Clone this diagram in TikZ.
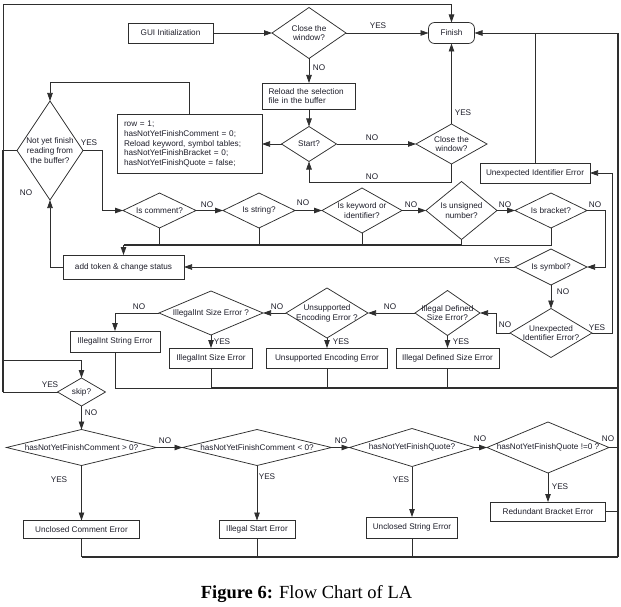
\documentclass[tikz,border=0pt]{standalone}
\usepackage{fontspec}
\setmainfont{Liberation Serif}
\newfontfamily\arialf{Liberation Sans}
\usetikzlibrary{arrows.meta,shapes.geometric}
\definecolor{lncol}{HTML}{2E2E2E}
\definecolor{txcol}{HTML}{1E1E2A}
\newcommand{\sfs}{\arialf\fontsize{8.2}{9.8}\selectfont}
\begin{document}
\begin{tikzpicture}[x=1pt,y=-1pt,
  ln/.style={draw=lncol, line width=0.75pt},
  thk/.style={draw=lncol, line width=1.8pt},
  arr/.style={draw=lncol, line width=0.75pt, -{Triangle[length=8pt,width=5.5pt]}},
  box/.style={rectangle, draw=lncol, line width=0.75pt, inner sep=0pt, outer sep=0pt, font=\sfs, text=txcol},
  dia/.style={diamond, draw=lncol, line width=0.75pt, inner sep=0pt, outer sep=0pt},
  dt/.style={font=\sfs, align=center, inner sep=0pt, text=txcol},
  lab/.style={font=\sfs, inner sep=0pt, text=txcol},
]
\useasboundingbox (0,0) rectangle (621,607);

% ---------- top part ----------
\node[box, minimum width=85pt, minimum height=20pt] (gui) at (170.5,33) {GUI Initialization};
\node[dia, minimum width=74pt, minimum height=51pt, label={[dt]center:{Close the\\window?}}] (close1) at (309,33) {};
\node[box, rounded corners=6pt, minimum width=46pt, minimum height=21pt] (finish) at (451.5,33) {Finish};
\node[box, minimum width=93pt, minimum height=26pt, text width=81pt, inner xsep=6pt, align=left] (reload) at (309,96) {Reload the selection\\file in the buffer};
\node[dia, minimum width=55pt, minimum height=35pt, label={[dt]center:{Start?}}] (start) at (309,144) {};
\node[dia, minimum width=71pt, minimum height=40pt, label={[dt]center:{Close the\\window?}}] (close2) at (451.5,144) {};
\node[box, minimum width=145pt, minimum height=59pt, text width=131pt, inner xsep=7pt, align=left] (code) at (189.5,144) {row = 1;\\hasNotYetFinishComment = 0;\\Reload keyword, symbol tables;\\hasNotYetFinishBracket = 0;\\hasNotYetFinishQuote = false;};
\node[dia, minimum width=66pt, minimum height=99pt, label={[dt]center:{Not yet finish\\reading from\\the buffer?}}] (notyet) at (50,150.5) {};
\node[box, minimum width=110pt, minimum height=20pt] (uie) at (535,173) {Unexpected Identifier Error};

% ---------- token row ----------
\node[dia, minimum width=73pt, minimum height=35pt, label={[dt]center:{Is comment?}}] (iscomment) at (159.5,210.5) {};
\node[dia, minimum width=72pt, minimum height=35pt, label={[dt]center:{Is string?}}] (isstring) at (259,210.5) {};
\node[dia, minimum width=80pt, minimum height=45pt, label={[dt]center:{Is keyword or\\identifier?}}] (iskw) at (362,210.5) {};
\node[dia, minimum width=71pt, minimum height=58pt, label={[dt]center:{Is unsigned\\number?}}] (isnum) at (461.5,210.5) {};
\node[dia, minimum width=72pt, minimum height=35pt, label={[dt]center:{Is bracket?}}] (isbracket) at (551,210.5) {};
\node[dia, minimum width=72pt, minimum height=36pt, label={[dt]center:{Is symbol?}}] (issymbol) at (551,267) {};
\node[box, minimum width=121pt, minimum height=24pt] (addtoken) at (123.5,267) {add token \& change status};

% ---------- error row ----------
\node[dia, minimum width=82pt, minimum height=49pt, label={[dt]center:{Unexpected\\Identifier Error?}}] (uiequ) at (551,333) {};
\node[dia, minimum width=65pt, minimum height=45pt, label={[dt]center:{Illegal Defined\\Size Error?}}] (ids) at (447.5,313) {};
\node[dia, minimum width=82pt, minimum height=50pt, label={[dt]center:{Unsupported\\Encoding Error ?}}] (ue) at (327,313) {};
\node[dia, minimum width=104pt, minimum height=44pt, label={[dt]center:{IllegalInt Size Error ?}}] (iis) at (211,313) {};
\node[box, minimum width=90pt, minimum height=21pt] (iisstr) at (115,341.5) {IllegalInt String Error};
\node[box, minimum width=83pt, minimum height=20pt] (iisbox) at (211,358) {IllegalInt Size Error};
\node[box, minimum width=121pt, minimum height=20pt] (uebox) at (327,358) {Unsupported Encoding Error};
\node[box, minimum width=103pt, minimum height=20pt] (idsbox) at (447.5,358) {Illegal Defined Size Error};

% ---------- bottom ----------
\node[dia, minimum width=48pt, minimum height=28pt, label={[dt]center:{skip?}}] (skip) at (81.5,392) {};
\node[dia, minimum width=150pt, minimum height=36pt, label={[dt]center:{hasNotYetFinishComment > 0?}}] (c1) at (81.5,447.5) {};
\node[dia, minimum width=149pt, minimum height=36pt, label={[dt]center:{hasNotYetFinishComment < 0?}}] (c2) at (257,447.5) {};
\node[dia, minimum width=125pt, minimum height=38pt, label={[dt]center:{hasNotYetFinishQuote?}}] (q1) at (412,447.5) {};
\node[dia, minimum width=122pt, minimum height=51pt, label={[dt]center:{hasNotYetFinishQuote !=0 ?}}] (q2) at (548,447.5) {};
\node[box, minimum width=116pt, minimum height=18pt] (b1) at (81.5,529.5) {Unclosed Comment Error};
\node[box, minimum width=76pt, minimum height=18pt] (b2) at (257,529.5) {Illegal Start Error};
\node[box, minimum width=91pt, minimum height=21pt] (b3) at (412,527.5) {Unclosed String Error};
\node[box, minimum width=115pt, minimum height=19pt] (b4) at (548,511.5) {Redundant Bracket Error};

\node[font=\fontsize{18.5}{22}\selectfont, anchor=base, inner sep=0pt] (cap) at (306.5,598) {\textbf{Figure 6:} Flow Chart of LA};

% ---------- coordinates ----------
\coordinate (L0) at (3,4);
\coordinate (L2) at (3,360);
\coordinate (R0) at (618,33);
\coordinate (R1) at (618,557);
\coordinate (M) at (618,388);
\coordinate (B0) at (123.5,245);
\coordinate (k1) at (50,82);
\coordinate (k2) at (102,150.5);
\coordinate (k3) at (451.5,182.5);
\coordinate (k4) at (612,333);
\coordinate (k5) at (605,210.5);
\coordinate (k6) at (496,333);

% ---------- connectors: top ----------
\draw[arr] (gui.east) -- (close1.west);
\draw[arr] (close1.east) -- (finish.west);
\draw[arr] (close1.south) -- (reload.north);
\draw[arr] (reload.south) -- (start.north);
\draw[arr] (start.west) -- (start.west -| code.east);
\draw[arr] (start.east) -- (close2.west);
\draw[arr] (close2.north) -- (finish.south);
\draw[arr] (close2.south) -- (k3) -| (start.south);
\draw[arr] (code.north) |- (k1) -- (notyet.north);
\draw[arr] (notyet.east) -- (k2) |- (iscomment.west);
\draw[arr] (addtoken.west) -| (notyet.south);

% left frame
\draw[arr] (L0) -| (finish.north);
\draw[ln] (L0) -- (notyet.west -| L0);
\draw[ln] (notyet.west) -- (notyet.west -| L0);
\draw[draw=lncol, line width=1.6pt] (notyet.west -| L0) -- (skip.west -| L0);
\draw[arr] (L2) -| (skip.north);
\draw[ln] (skip.west) -- (skip.west -| L0);

% right frame
\draw[arr] (R0) -- (finish.east);
\draw[ln] (uie.north) -- (uie.north |- R0);
\draw[draw=lncol, line width=2.4pt] (R0) -- (R1);
\draw[arr] (uiequ.east) -- (k4) |- (uie.east);

% ---------- token row ----------
\draw[arr] (iscomment.east) -- (isstring.west);
\draw[arr] (isstring.east) -- (iskw.west);
\draw[arr] (iskw.east) -- (isnum.west);
\draw[arr] (isnum.east) -- (isbracket.west);
\draw[arr] (isbracket.east) -- (k5) |- (issymbol.east);
\draw[ln] (iscomment.south) -- (iscomment.south |- B0);
\draw[ln] (isstring.south) -- (isstring.south |- B0);
\draw[ln] (iskw.south) -- (iskw.south |- B0);
\draw[ln] (isnum.south) -- (isnum.south |- B0);
\draw[ln] (isbracket.south) -- (isbracket.south |- B0) -- (isnum.south |- B0);
\draw[thk] (B0) -- (isnum.south |- B0);
\draw[arr] (B0) -- (addtoken.north);
\draw[arr] (issymbol.west) -- (addtoken.east);
\draw[arr] (issymbol.south) -- (uiequ.north);

% ---------- error row ----------
\draw[arr] (uiequ.west) -- (k6) |- (ids.east);
\draw[arr] (ids.west) -- (ue.east);
\draw[arr] (ue.west) -- (iis.east);
\draw[arr] (iis.west) -| (iisstr.north);
\draw[arr] (iis.south) -- (iisbox.north);
\draw[arr] (ue.south) -- (uebox.north);
\draw[arr] (ids.south) -- (idsbox.north);
\draw[ln] (iisstr.south) |- (iisbox.south |- M);
\draw[ln] (iisbox.south) -- (iisbox.south |- M);
\draw[ln] (uebox.south) -- (uebox.south |- M);
\draw[ln] (idsbox.south) -- (idsbox.south |- M);
\draw[thk] (iisbox.south |- M) -- (M);

% ---------- bottom ----------
\draw[arr] (skip.south) -- (c1.north);
\draw[arr] (c1.east) -- (c2.west);
\draw[arr] (c2.east) -- (q1.west);
\draw[arr] (q1.east) -- (q2.west);
\draw[ln] (q2.east) -- (q2.east -| R0);
\draw[arr] (c1.south) -- (b1.north);
\draw[arr] (c2.south) -- (b2.north);
\draw[arr] (q1.south) -- (b3.north);
\draw[arr] (q2.south) -- (b4.north);
\draw[ln] (b1.south) -- (b1.south |- R1);
\draw[ln] (b2.south) -- (b2.south |- R1);
\draw[ln] (b3.south) -- (b3.south |- R1);
\draw[ln] (b4.east) -- (b4.east -| R0);
\draw[draw=lncol, line width=1.2pt] (b1.south |- R1) -- (R1);

% ---------- YES / NO labels ----------
\node[lab] (l1) at (378,26) {YES};
\node[lab] (l2) at (319,68) {NO};
\node[lab] (l3) at (372,138) {NO};
\node[lab] (l4) at (463,113) {YES};
\node[lab] (l5) at (372,177) {NO};
\node[lab] (l6) at (89,143) {YES};
\node[lab] (l7) at (26,193) {NO};
\node[lab] (l8) at (207,205) {NO};
\node[lab] (l9) at (303,203) {NO};
\node[lab] (l10) at (411,205) {NO};
\node[lab] (l11) at (505,205) {NO};
\node[lab] (l12) at (595,205) {NO};
\node[lab] (l13) at (502,261) {YES};
\node[lab] (l14) at (563,292) {NO};
\node[lab] (l15) at (597,328) {YES};
\node[lab] (l16) at (505,325) {NO};
\node[lab] (l17) at (390,307) {NO};
\node[lab] (l18) at (461,342) {YES};
\node[lab] (l19) at (341,342) {YES};
\node[lab] (l20) at (277,307) {NO};
\node[lab] (l21) at (222,342) {YES};
\node[lab] (l22) at (139,307) {NO};
\node[lab] (l23) at (50,385) {YES};
\node[lab] (l24) at (91,413) {NO};
\node[lab] (l25) at (165,441) {NO};
\node[lab] (l26) at (59,480) {YES};
\node[lab] (l27) at (267,477) {YES};
\node[lab] (l28) at (341,441) {NO};
\node[lab] (l29) at (480,439) {NO};
\node[lab] (l30) at (608,439) {NO};
\node[lab] (l31) at (401,480) {YES};
\node[lab] (l32) at (560,487) {YES};
\end{tikzpicture}
\end{document}
